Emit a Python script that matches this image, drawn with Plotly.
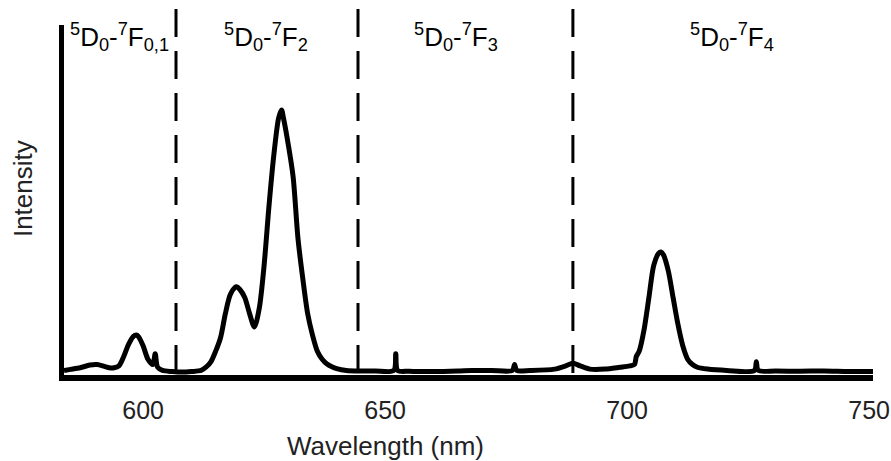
import plotly.graph_objects as go

# Emission spectrum (wavelength in nm, intensity normalised to main peak)
wavelength = [583.66, 585, 587, 589, 590.5, 592, 593, 594, 595, 596, 597, 598, 598.6, 599, 600, 601, 602,
              602.5, 603, 604, 606, 608, 610, 612, 613, 614, 615, 616, 617, 618, 619, 619.3, 620, 621,
              622, 623, 624, 625, 626, 627, 628, 628.6, 629, 630, 631, 632, 633, 634, 635, 636, 637,
              638, 639, 640, 642, 645, 648, 651.8, 652.2, 652.6, 655, 660, 665, 668, 672, 676.3, 676.75,
              677.2, 680, 685, 687.3, 688.8, 690.3, 692.3, 695.4, 698.5, 700.5, 701.5, 701.9, 702.5,
              703.5, 704.5, 705.5, 706.5, 707, 707.5, 708.5, 709.5, 710.5, 711.5, 712.5, 713.5, 714.5,
              716.6, 720.6, 726.3, 726.7, 727.1, 730.7, 735.7, 740.7, 745.8, 750.8]
intensity = [0.028, 0.032, 0.038, 0.048, 0.05, 0.043, 0.038, 0.038, 0.045, 0.08, 0.125, 0.155, 0.16, 0.155,
             0.12, 0.07, 0.05, 0.09, 0.04, 0.028, 0.024, 0.022, 0.024, 0.028, 0.04, 0.06, 0.1, 0.15, 0.24,
             0.31, 0.338, 0.34, 0.33, 0.30, 0.24, 0.19, 0.26, 0.42, 0.64, 0.83, 0.97, 1.0, 0.97, 0.87,
             0.75, 0.52, 0.37, 0.24, 0.16, 0.1, 0.07, 0.052, 0.042, 0.035, 0.028, 0.026, 0.026, 0.028,
             0.09, 0.028, 0.025, 0.024, 0.026, 0.028, 0.028, 0.028, 0.05, 0.028, 0.028, 0.033, 0.045,
             0.055, 0.045, 0.033, 0.033, 0.04, 0.045, 0.05, 0.08, 0.1, 0.18, 0.3, 0.42, 0.465, 0.47, 0.46,
             0.4, 0.3, 0.2, 0.12, 0.07, 0.05, 0.04, 0.033, 0.028, 0.028, 0.06, 0.028, 0.026, 0.025,
             0.026, 0.024, 0.024]

# Transition boundaries (dashed lines) and labels
boundaries = [606.8, 644.4, 688.8]
band_labels = ["<sup>5</sup>D<sub>0</sub>-<sup>7</sup>F<sub>0,1</sub>",
               "<sup>5</sup>D<sub>0</sub>-<sup>7</sup>F<sub>2</sub>",
               "<sup>5</sup>D<sub>0</sub>-<sup>7</sup>F<sub>3</sub>",
               "<sup>5</sup>D<sub>0</sub>-<sup>7</sup>F<sub>4</sub>"]
label_x = [0.069, 0.250, 0.4845, 0.826]

tick_vals = [600, 650, 700, 750]
tick_text = ["600", "650", "700", "750"]

FONT = "Liberation Sans, Arial, sans-serif"

fig = go.Figure()
fig.add_trace(go.Scatter(x=wavelength, y=intensity, mode="lines",
                         line=dict(color="black", width=5, shape="spline", smoothing=0.8),
                         showlegend=False, hoverinfo="skip"))

for b in boundaries:
    fig.add_shape(type="line", xref="x", yref="paper", x0=b, x1=b, y0=1.0457, y1=0,
                  line=dict(color="black", width=3, dash="28px,14px"))

for txt, lx in zip(band_labels, label_x):
    fig.add_annotation(text=txt, xref="paper", yref="paper", x=lx, y=0.966,
                       xanchor="center", yanchor="middle", showarrow=False,
                       font=dict(family=FONT, size=26, color="black"))

fig.add_annotation(text="Wavelength (nm)", xref="paper", yref="paper", x=0.397, y=-0.203,
                   xanchor="center", yanchor="middle", showarrow=False,
                   font=dict(family=FONT, size=26, color="#222"))
fig.add_annotation(text="Intensity", xref="paper", yref="paper", x=-0.0507, y=0.534,
                   xanchor="center", yanchor="middle", showarrow=False, textangle=-90,
                   font=dict(family=FONT, size=26, color="#222"))

fig.update_layout(
    width=891, height=461,
    margin=dict(l=64, r=18, t=25, b=86, autoexpand=False),
    paper_bgcolor="white", plot_bgcolor="white",
    xaxis=dict(range=[583.66, 750.8], tickvals=tick_vals, ticktext=tick_text, automargin=False,
               showgrid=False, zeroline=False, showline=True, linecolor="black", linewidth=6,
               ticks="", ticklabelstandoff=8, ticklabeloverflow="allow",
               tickfont=dict(family=FONT, size=25, color="#222")),
    yaxis=dict(range=[0.011, 1.317], showticklabels=False, showgrid=False, zeroline=False,
               automargin=False, showline=True, linecolor="black", linewidth=5, ticks=""),
)

fig.write_html("out.html", config={"displayModeBar": False},
               post_script="document.body.style.margin='0';")
